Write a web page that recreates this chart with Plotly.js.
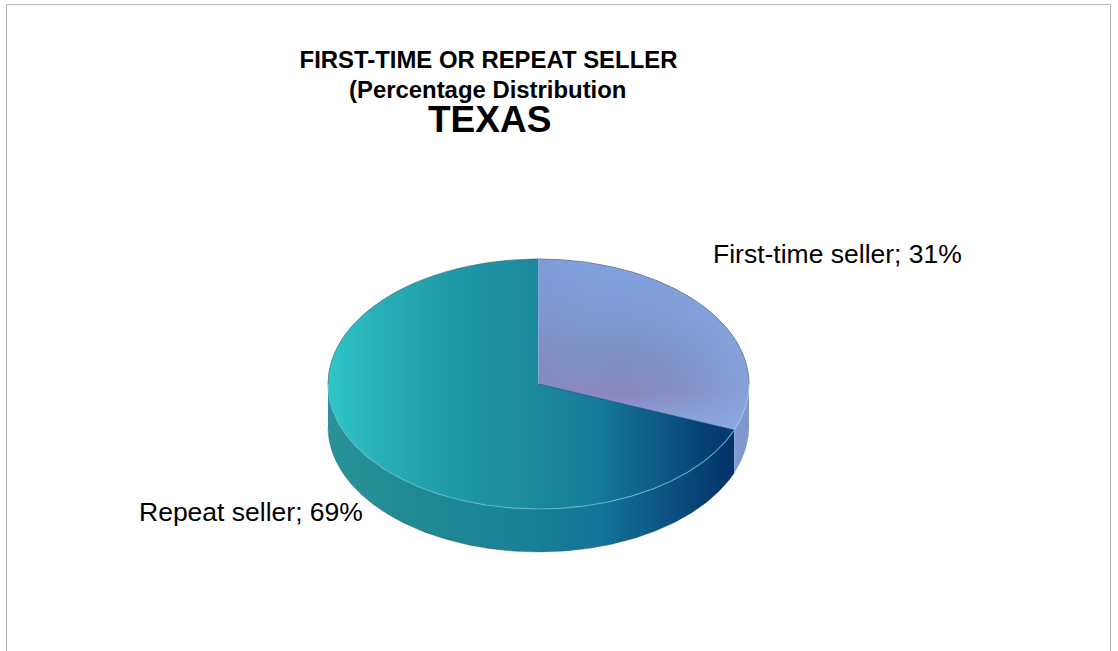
<!DOCTYPE html>
<html><head><meta charset="utf-8">
<script src="https://cdn.plot.ly/plotly-3.0.1.min.js"></script>
<style>html,body{margin:0;padding:0;background:#fff;overflow:hidden}</style>
</head><body><div id="chart" style="width:1118px;height:651px"></div>
<script>
// Data
const categories = ["First-time seller", "Repeat seller"];
const shares = [31, 69];
const titleLines = ["FIRST-TIME OR REPEAT SELLER", "(Percentage Distribution", "TEXAS"];

// Projected disc, in the pixel-valued hidden axes
const cx = 538.5, cy = 384, rx = 210.5, ry = 125, depth = 43;
const pt = (deg, dy) => [cx + rx * Math.sin(deg * Math.PI / 180), cy - ry * Math.cos(deg * Math.PI / 180) + (dy || 0)];
const sweep = (a, b, dy) => {
  const n = Math.max(2, Math.ceil(Math.abs(b - a) * 2)), o = [];
  for (let i = 0; i <= n; i++) o.push(pt(a + (b - a) * i / n, dy));
  return o;
};
const total = shares.reduce((s, v) => s + v, 0);
const split = shares[0] / total * 360;

function poly(points, grad, name, text) {
  return {type: "scatter", mode: "lines", x: points.map(p => p[0]), y: points.map(p => p[1]),
    fill: "toself", fillgradient: grad, line: {width: 0}, name: name, hoverinfo: "text", text: text, showlegend: false};
}
function rim(points, color, width) {
  return {type: "scatter", mode: "lines", x: points.map(p => p[0]), y: points.map(p => p[1]),
    line: {color: color, width: width}, hoverinfo: "skip", showlegend: false};
}
const hText = categories.map((c, i) => c + ": " + shares[i] + "%");

const wallRepeat = sweep(split, 270).concat(sweep(270, split, depth));
const wallFirst = sweep(90, split).concat(sweep(split, 90, depth));
const topFirst = [[cx, cy]].concat(sweep(0, split));
const topRepeat = [[cx, cy]].concat(sweep(split, 360));

const traces = [
  poly(wallRepeat, {type: "horizontal", start: 328, stop: 749, colorscale: [[0, "#2b9299"], [0.2, "#1f8a94"], [0.5, "#187f96"], [0.65, "#14739a"], [0.82, "#0b4e7f"], [0.96, "#03346a"], [1, "#03346a"]]}, categories[1], hText[1]),
  poly(wallFirst, {type: "horizontal", start: 735, stop: 750, colorscale: [[0, "#7f9bd4"], [1, "#7f97c8"]]}, categories[0], hText[0]),
  poly(topFirst, {type: "vertical", start: 259, stop: 430, colorscale: [[0, "#7fa3e0"], [0.35, "#7f9ad2"], [0.62, "#7f8cc0"], [0.78, "#8a86bb"], [1, "#8ea9e0"]]}, categories[0], hText[0]),
  poly(topFirst, {type: "horizontal", start: 538, stop: 749, colorscale: [[0, "rgba(130,140,195,0.35)"], [0.4, "rgba(130,160,220,0)"], [1, "rgba(135,170,230,0.75)"]]}, categories[0], hText[0]),
  poly(topRepeat, {type: "horizontal", start: 328, stop: 736, colorscale: [[0, "#2fc6c8"], [0.12, "#28b0b8"], [0.3, "#1f9aa8"], [0.5, "#1a8a9c"], [0.66, "#167a9b"], [0.8, "#0e5c88"], [0.93, "#053f74"], [1, "#03386e"]]}, categories[1], hText[1]),
  rim(sweep(270, 360), "rgba(70,110,120,0.7)", 1),
  rim(sweep(0, 90), "rgba(105,120,150,0.9)", 1),
  rim(sweep(90, split), "rgba(170,195,235,0.9)", 1),
  rim(sweep(split, 270), "rgba(95,185,205,0.75)", 1.2),
  rim(sweep(split, 270, depth), "rgba(40,70,90,0.35)", 1),
  rim([[cx, cy], pt(0)], "rgba(140,165,220,0.8)", 1),
  rim([[cx, cy], pt(split)], "rgba(20,60,110,0.6)", 1)
];

const layout = {
  width: 1118, height: 651, margin: {l: 0, r: 0, t: 0, b: 0},
  paper_bgcolor: "#fff", plot_bgcolor: "#fff",
  font: {family: "'Liberation Sans', Arial, sans-serif", color: "#000"},
  xaxis: {range: [0, 1118], visible: false, fixedrange: true},
  yaxis: {range: [651, 0], visible: false, fixedrange: true},
  title: {
    text: "<b>" + titleLines[0] + "</b>",
    font: {size: 23.9, family: "'Liberation Sans', Arial, sans-serif", color: "#000"},
    x: 488.5 / 1118, xanchor: "center", y: 1 - 60 / 651, yanchor: "middle"
  },
  annotations: [
    {x: 487, y: 89, xref: "x", yref: "y", xanchor: "center", yanchor: "middle", showarrow: false, text: "<b>" + titleLines[1] + "</b>", font: {size: 23.9, color: "#000"}},
    {x: 489.5, y: 119, xref: "x", yref: "y", xanchor: "center", yanchor: "middle", showarrow: false, text: "<b>" + titleLines[2] + "</b>", font: {size: 37, color: "#000"}},
    {x: 711, y: 254, xref: "x", yref: "y", xanchor: "left", yanchor: "middle", showarrow: false, text: categories[0] + "; " + shares[0] + "%", font: {size: 26.5, color: "#000"}},
    {x: 137, y: 512, xref: "x", yref: "y", xanchor: "left", yanchor: "middle", showarrow: false, text: categories[1] + "; " + shares[1] + "%", font: {size: 26.5, color: "#000"}}
  ],
  shapes: [
    {type: "rect", xref: "x", yref: "y", x0: 6.5, x1: 1110.5, y0: 4.5, y1: 700, line: {color: "#b4b4b4", width: 1}, fillcolor: "rgba(0,0,0,0)", layer: "below"}
  ]
};
Plotly.newPlot("chart", traces, layout, {displayModeBar: false, responsive: false});
</script></body></html>
